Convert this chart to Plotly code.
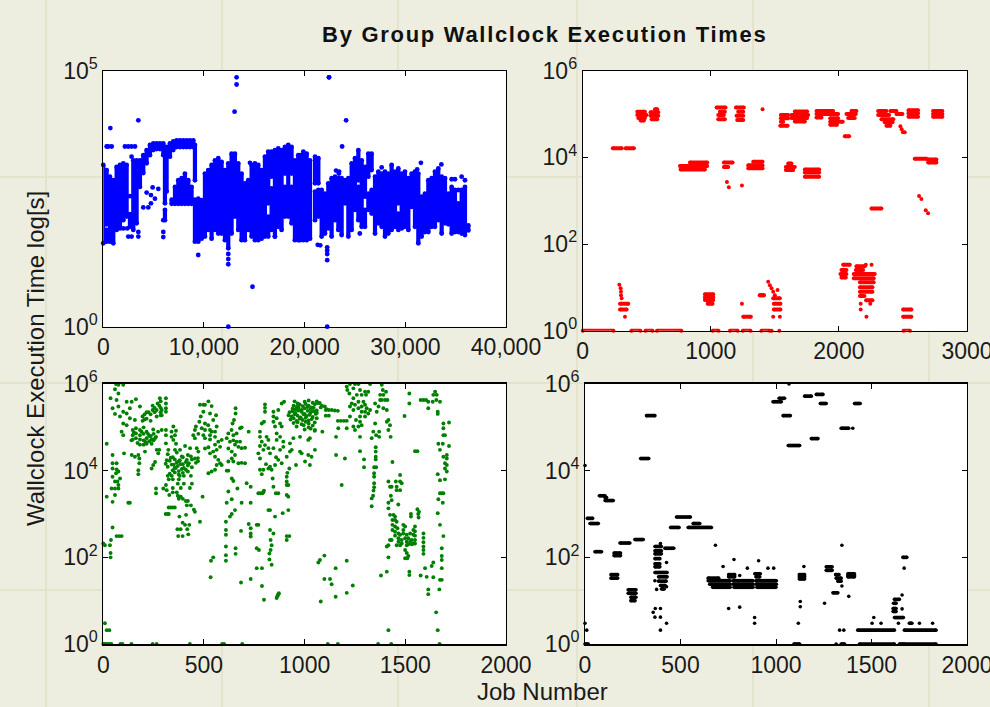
import plotly.graph_objects as go
from plotly.subplots import make_subplots

# ---------- blue group: job number, upper and lower edge of each stretch of the dense cloud (log10 seconds)
blue_x = [0,331,331,662,993,1324,1655,1986,2317,2648,2979,3310,3641,3972,4303,4634,4965,5296,5627,5958,6124,6124,6289,6620,6951,7282,7613,7944,8275,8606,8937,9103,
          7120,7450,7780,8110,8440,8770,6789,9103,9103,9434,9765,10096,10427,10758,11089,11420,11751,12082,12413,12744,13075,13406,13737,14068,14399,14730,15061,15392,15723,16054,16385,16385,16716,16716,17047,17047,17378,17709,17709,18040,18040,18371,18702,18702,19033,19364,
          19540,19871,20202,20533,21030,21030,21360,21360,21690,22020,22350,22680,23015,23345,23675,24010,24340,24670,24670,25000,25335,25335,25665,25995,25995,26325,26325,26655,26655,26990,27320,27650,27980,28310,28640,28975,29305,29305,29635,29965,30300,30630,30960,31290,31620,31950,32285,32615,32945,33275,33610,33940,34270,34600,34930,35260,35595,35925,36255]
blue_hi = [3.16,3.06,1.89,2.93,2.86,3.12,3.16,3.19,3.16,2.20,3.25,3.25,3.25,3.35,3.45,3.55,3.58,3.58,3.58,3.58,3.45,2.28,3.51,3.58,3.62,3.64,3.64,3.64,3.64,3.64,3.64,3.55,
           2.73,2.86,2.90,2.99,2.86,2.73,2.48,2.48,2.41,2.50,2.47,2.99,3.06,3.16,3.25,3.29,3.22,3.06,3.19,3.38,3.38,3.19,2.99,2.80,2.86,3.16,3.19,3.16,3.06,3.32,3.42,2.15,3.42,2.70,3.45,2.99,3.48,3.45,2.28,3.51,2.73,3.55,3.51,2.73,3.25,3.35,
           3.35,3.42,3.38,3.25,3.32,2.64,3.29,2.67,2.67,2.60,2.80,2.90,2.93,2.90,2.90,2.86,2.90,3.19,2.47,3.29,3.45,2.73,3.25,3.12,2.28,3.38,2.60,3.38,2.67,2.93,3.03,2.99,3.03,2.99,3.16,3.03,3.09,2.21,2.99,3.03,2.90,2.99,3.03,2.99,2.54,2.60,2.86,2.90,3.03,3.09,2.93,2.90,2.60,2.73,2.67,2.41,2.67,2.73,1.98]
blue_lo = [1.63,2.00,1.66,1.66,1.63,1.89,1.92,2.08,2.15,1.95,1.89,2.02,2.73,3.00,3.19,3.35,3.45,3.47,3.47,3.35,2.41,2.08,2.64,3.32,3.45,3.51,3.51,3.51,3.51,3.51,3.51,2.86,
           2.40,2.40,2.40,2.40,2.40,2.40,2.40,2.38,1.66,1.66,1.72,1.76,1.89,1.72,1.89,1.82,1.82,1.69,1.53,1.82,2.15,1.89,1.69,1.69,1.89,1.76,1.69,1.69,1.72,1.76,2.41,1.76,2.93,1.89,3.06,1.76,1.95,2.34,1.89,2.99,2.15,2.15,2.99,2.02,1.69,1.69,
           1.69,1.69,1.69,1.72,2.80,2.08,2.80,2.15,1.76,1.82,1.92,1.76,2.08,1.89,1.79,2.41,1.76,2.54,1.89,2.28,2.86,2.08,1.95,2.54,1.95,2.93,2.28,3.06,2.21,1.82,2.02,1.95,1.76,1.82,1.89,1.95,2.41,1.89,1.92,1.95,1.89,2.34,1.95,1.63,1.76,1.85,1.85,1.95,1.95,2.08,1.82,2.02,2.00,1.82,1.85,1.85,1.82,1.79,1.88]
blue_dots_x = [700,3480,13240,13240,13040,22420,22420,23420,24120,23720,23120,23400,9430,21550,22240,22240,22240,22240,14820,12420,22240,330,500,830,2150,2480,2810,3150,2810,31550,31180,33580,27650,14570,5960,5960,5960,2380,1990,2810,2480,3480,3480,4303,4899,5462,4733,5130,4733,4469,3972,17050,25480,
               34600,34930,35595,35925,35260,2648,12413,12413,12413,21300]
blue_dots_y = [3.88,4.03,4.87,4.73,4.20,4.87,4.87,3.03,4.03,3.52,3.05,2.99,1.40,1.59,1.55,1.49,1.42,1.30,0.78,0.0,0.0,3.52,3.52,3.52,3.52,3.52,3.52,3.52,3.32,3.20,3.07,3.17,3.11,3.20,2.08,1.85,1.75,1.92,1.92,1.76,1.76,1.85,1.76,2.62,2.72,2.69,2.57,2.50,2.41,2.33,2.33,1.76,1.82,
               2.88,2.88,2.93,2.86,2.67,2.55,1.42,1.32,1.22,1.60]

# ---------- red group: runs of jobs at a similar time (first job, last job, log10 seconds) and single jobs
red_x0 = [0,380,490,580,1015,1150,1250,1395,2505,235,335,291,291,1253,1383,426,426,434,452,564,530,530,538,1045,1071,1058,1058,1196,1214,1201,1206,1547,1547,1547,1542,1656,1630,1630,1656,1825,1825,1825,1932,1932,1932,2098,2059,2072,2046,2306,2306,2332,2358,2371,2402,2449,2543,2543,2543,2735,2735,2735,2592,2696,2696,837,759,764,1102,1102,1331,1292,1292,1604,1586,1586,1734,1734,1734,2254,954,954,954,975,1383,1487,1492,1492,2033,2020,2012,2020,2137,2132,2116,2116,2164,2164,2164,2164,2212,2501,2501]
red_x1 = [240,450,545,770,1060,1210,1310,1460,2555,305,400,356,343,1313,1414,486,499,486,478,582,590,590,582,1115,1110,1102,1110,1258,1253,1253,1253,1604,1604,1565,1600,1752,1760,1752,1734,1955,1994,1864,1994,2030,1985,2137,2132,2124,2080,2371,2392,2425,2418,2402,2449,2496,2618,2618,2618,2808,2808,2808,2683,2761,2761,972,972,954,1170,1136,1404,1404,1404,1630,1656,1643,1846,1846,1846,2332,1019,1019,1019,1014,1414,1539,1544,1544,2085,2059,2059,2054,2202,2189,2280,2272,2272,2262,2262,2200,2262,2566,2566]
red_log = [0,0,0,0,0,0,0,0,0,4.21,4.21,0.62,0.49,0.32,0.82,5.05,4.98,4.91,4.85,5.11,5.04,4.96,4.88,5.15,5.05,4.98,4.88,5.15,5.05,4.96,4.86,4.98,4.90,4.82,4.73,5.06,4.98,4.91,4.83,5.07,5.00,4.92,4.90,4.82,4.75,5.07,5.00,4.91,4.49,5.07,4.98,4.88,4.81,4.73,5.07,5.00,5.09,5.02,4.94,5.07,5.00,4.94,3.97,3.95,3.88,3.88,3.80,3.72,3.88,3.78,3.90,3.82,3.75,3.86,3.78,3.71,3.72,3.65,3.55,2.82,0.84,0.77,0.71,0.62,0.82,0.75,0.62,0.49,1.52,1.40,1.31,1.23,1.49,1.40,1.31,1.21,1.12,1.00,0.90,0.80,0.70,0.49,0.32]
red_dots_x = [1404,286,296,299,299,304,330,1126,1141,1243,2626,2644,2678,2696,1243,1448,1461,1474,1487,1500,1521,1487,1539,2210,2170,2170,2215,2255,2245,1475,1535,2480,2490,2500,2514]
red_dots_y = [5.11,1.06,0.98,0.90,0.82,0.75,0.32,3.43,3.31,3.35,3.11,3.04,2.78,2.71,0.62,1.13,1.05,0.98,0.90,0.82,0.94,0.32,0.32,1.52,0.62,0.49,0.32,1.52,0.62,0.0,0.0,4.72,4.65,4.58,4.58]

# ---------- green group: single jobs (job number, log10 seconds)
green_x = [0,5,10,20,30,40,85,95,140,245,265,430,590,600,690,1115,1165,1365,1430,1670,8,17,30,8,0,33,38,36,36,66,79,91,46,17,46,58,41,58,75,75,58,83,70,46,63,46,66,75,46,66,46,17,36,63,75,99,58,75,66,75,46,83,58,99,116,141,132,162,182,116,132,99,116,157,91,99,
 146,146,146,162,162,162,182,182,182,182,200,200,200,200,215,215,215,228,228,240,240,250,250,195,195,205,205,215,215,225,235,235,245,245,255,255,265,265,270,285,285,285,285,311,311,311,311,290,281,278,290,290,311,311,311,257,265,278,273,207,174,179,179,174,174,157,141,103,257,248,240,124,132,262,262,298,311,315,328,
 320,345,365,390,420,470,315,335,355,375,395,415,435,455,470,310,330,350,365,380,395,410,425,440,460,320,340,355,370,385,400,420,440,345,360,375,390,410,330,355,375,395,420,320,340,380,400,435,325,345,375,370,400,440,345,385,430,345,365,370,375,395,375,385,493,420,410,435,415,450,325,335,345,355,310,320,325,378,411,455,480,394,406,368,384,417,427,372,394,422,348,361,339,356,339,348,361,323,356,406,381,431,464,472,455,447,455,460,
 480,497,505,522,538,530,497,484,477,505,560,546,563,521,489,505,530,538,555,472,497,530,555,505,530,505,522,555,571,588,580,563,546,530,555,571,588,563,522,538,555,580,657,657,649,642,637,621,613,629,646,662,679,654,671,687,621,638,654,638,621,646,671,687,704,679,687,662,646,722,704,613,621,638,646,621,666,638,613,687,732,654,638,629,609,609,609,609,609,609,657,657,546,535,533,684,732,684,712,732,
 722,732,732,732,762,770,762,773,762,788,788,798,861,864,867,870,872,770,780,790,795,798,820,828,853,891,919,828,845,831,836,831,825,825,836,911,911,924,845,857,869,911,919,911,919,911,911,914,924,841,836,820,778,795,787,808,828,853,869,858,886,911,927,977,985,957,1002,1026,1018,1051,1034,803,803,803,787,798,778,778,787,778,795,770,778,811,820,803,820,828,869,845,886,898,845,861,845,878,853,886,861,878,861,894,845,878,894,927,936,944,977,1018,1026,1051,1088,
 950,965,1000,1020,1040,1060,1075,945,960,975,990,1005,1020,1035,1050,1065,1085,1100,940,955,970,985,1000,1015,1030,1045,1060,1080,1110,925,940,955,970,985,1000,1015,1030,1045,1060,920,935,950,965,980,995,1010,1025,1040,1055,930,945,960,975,990,1005,1020,1035,1060,945,965,985,1005,1020,1050,960,995,1020,1040,1000,1030,1050,1105,1120,1135,1150,1165,1105,1120,1165,1180,1195,1209,1156,1156,1200,1184,1209,1167,1068,1076,1098,1098,1126,1134,1154,1209,1080,1154,1209,1239,
 1209,1212,1225,1222,1250,1242,1267,1275,1259,1283,1325,1316,1300,1305,1242,1267,1292,1234,1250,1225,1283,1300,1308,1325,1267,1242,1283,1300,1316,1275,1300,1225,1255,1275,1283,1267,1242,1250,1275,1275,1295,1295,1350,1358,1350,1341,1333,1370,1355,1370,1353,1353,1353,1353,1345,1355,1345,1345,1345,1345,1342,1340,1333,1333,1383,1388,1375,1391,1404,1375,1383,1399,1411,1367,1391,1408,1416,1408,1424,1416,1427,1379,1408,1416,
 1436,1416,1424,1432,1428,1432,1416,1416,1424,1441,1449,1474,1453,1474,1482,1457,1474,1457,1465,1496,1520,1520,1436,1449,1457,1436,1449,1461,1436,1449,1466,1490,1499,1490,1474,1490,1507,1524,1540,1449,1466,1482,1499,1515,1532,1540,1466,1482,1507,1524,1540,1424,1416,1408,1432,1457,1474,1507,1515,1532,1499,1507,1515,1510,1499,1528,1528,1560,1568,1564,1566,1548,1548,1548,1548,1548,1590,1590,1590,1590,1590,1590,1520,1520,1416,1548,1560,1576,1590,1603,1614,1614,1636,1639,1648,1656,1654,1672,1661,1661,1664,1686,1672,1689,1697,1689,1717,1689,1717,1706,1706,1697,1706,1697,1706,1689,1661,1672,1697,1681,1689,1672,1664,1686,1661,1672,1689,1681,1681,1681,1681,1672,1681,1669,1639,1631,1576,1606,1598,1639,1614,1614,1653,1661,
 140,152,170,190,210,222,236,248,262,272]
green_log = [0,0,0,0,0,0,0,0,0,0,0,0,0,0,0,0,0,0,0,0,0.48,0.32,0.32,2.28,2.32,2.28,2.4,2.1,2.0,2.49,2.49,2.49,2.69,3.4,3.28,3.44,3.59,3.59,3.59,3.67,3.75,3.82,3.75,3.86,3.94,4.05,4.03,3.98,4.17,4.17,4.36,4.62,5.67,6,5.98,5.98,5.88,5.78,5.63,5.48,5.44,5.25,5.31,5.36,5.59,5.59,5.44,5.65,5.48,5.32,5.21,5.09,5.05,5.17,4.9,4.82,
 4.94,4.82,4.72,4.98,4.86,4.75,4.94,4.82,4.72,4.6,5.0,4.85,4.7,4.6,4.9,4.75,4.62,4.8,4.68,4.72,4.62,4.85,4.7,5.25,5.15,5.3,5.18,5.35,5.2,5.35,5.3,5.15,5.4,5.5,5.35,5.45,5.4,5.25,5.55,5.6,5.45,5.35,5.28,5.67,5.55,5.44,5.36,5.4,5.67,5.5,5.28,4.94,4.94,4.82,4.63,4.75,4.48,4.48,4.4,4.44,4.36,4.28,4.17,4.01,3.92,4.32,4.36,4.4,4.2,4.13,4.05,3.26,3.26,3.59,3.48,3.59,3.67,3.55,3.44,
 4.38,4.31,4.42,4.33,4.36,4.29,4.24,4.30,4.26,4.21,4.31,4.25,4.33,4.28,4.22,4.16,4.23,4.14,4.19,4.24,4.15,4.20,4.17,4.26,4.18,4.09,4.14,4.07,4.11,4.15,4.06,4.12,4.08,4.01,4.06,3.99,4.04,4.02,3.93,3.96,3.91,3.95,3.98,3.88,3.88,3.88,3.88,3.88,3.8,3.8,3.8,3.7,3.7,3.7,3.6,3.6,3.6,3.5,3.5,3.42,3.35,3.35,3.4,3.4,3.4,3.3,3.3,3.2,3.2,3.1,3.15,3.15,3.15,3.15,3.0,3.0,3.0,2.94,2.98,3.05,2.82,2.8,2.75,2.65,2.65,2.65,2.75,2.49,2.49,2.53,5.02,4.92,4.9,4.82,4.78,4.71,4.62,4.48,4.48,4.57,4.48,4.52,4.52,4.44,4.94,4.82,4.75,5.02,
 5.52,5.52,5.52,5.6,5.49,5.32,5.36,5.25,5.13,5.09,5.28,5.17,5.02,5.05,4.98,4.94,4.94,4.9,4.9,4.85,4.82,4.82,4.78,4.75,4.72,4.51,4.54,4.6,4.67,4.71,4.55,4.48,4.44,4.4,4.32,4.25,4.13,4.13,3.94,3.98,4.02,4.17,5.44,5.32,5.17,5.09,4.94,4.86,4.75,4.67,4.7,4.67,4.67,4.6,4.55,4.52,4.51,4.44,4.36,4.28,4.21,4.21,4.17,4.18,4.17,4.98,5.0,4.86,4.82,4.9,4.53,4.0,4.0,3.82,3.76,3.52,3.59,3.34,3.26,3.26,3.26,3.09,3.0,2.94,2.82,2.63,2.52,2.25,2.05,1.92,2.21,2.08,2.0,1.92,1.54,1.42,1.5,2.61,3.71,3.63,
 2.77,2.67,2.55,2.48,2.75,2.75,2.21,2.17,1.75,1.75,1.34,1.02,1.06,1.1,1.13,1.15,1.17,3.48,3.48,3.48,3.5,3.54,3.09,3.09,2.94,3.02,3.09,2.63,2.55,2.4,2.28,2.17,2.09,1.95,1.83,2.49,2.4,2.49,3.63,3.48,3.48,3.67,3.67,3.44,3.4,3.86,3.75,3.95,4.05,3.82,4.02,4.05,4.02,4.02,3.92,4.15,4.09,4.13,4.25,4.31,4.17,4.32,4.44,4.44,4.4,4.13,4.21,4.13,4.36,4.48,4.32,5.53,5.45,5.36,5.09,5.13,4.9,4.78,4.67,4.57,4.48,4.4,4.28,4.78,4.71,4.59,4.52,4.4,5.4,5.36,5.55,5.59,5.25,5.21,5.13,5.09,5.02,5.02,4.86,4.78,4.71,4.67,4.52,4.48,4.55,4.63,4.48,4.75,4.78,4.71,4.75,4.94,4.9,
 5.6,5.55,5.59,5.62,5.57,5.6,5.56,5.5,5.47,5.53,5.49,5.54,5.5,5.46,5.53,5.56,5.5,5.48,5.43,5.41,5.46,5.4,5.44,5.47,5.42,5.45,5.39,5.46,5.42,5.35,5.37,5.33,5.39,5.36,5.31,5.38,5.34,5.37,5.33,5.28,5.25,5.3,5.27,5.23,5.3,5.26,5.29,5.24,5.31,5.18,5.21,5.15,5.2,5.17,5.22,5.16,5.19,5.21,5.1,5.12,5.07,5.13,5.09,5.11,5.02,5.05,5.0,5.04,4.95,4.97,4.92,5.4,5.4,5.4,5.39,5.38,5.27,5.27,5.15,5.15,5.15,5.15,4.78,4.36,4.28,3.67,4.98,4.98,1.88,1.94,2.04,1.5,1.5,1.38,1.75,1.92,0.98,1.09,1.18,1.35,
 5.94,5.86,6,5.78,6,5.9,6,5.86,5.75,5.75,6,5.82,5.82,5.75,5.67,5.59,5.59,5.55,5.52,5.48,5.48,5.52,5.44,5.4,5.44,5.4,5.36,5.36,5.32,5.25,5.25,5.25,5.17,5.13,5.05,5.02,5.02,4.94,4.78,4.45,4.26,4.08,5.55,5.36,5.09,4.9,4.75,4.9,4.82,4.78,4.54,4.44,4.32,4.26,4.08,4.08,3.94,3.86,3.71,3.62,3.54,3.42,3.36,3.18,5.98,5.86,5.75,5.75,5.82,5.63,5.63,5.63,5.63,5.48,5.44,5.4,5.17,5.13,5.05,4.94,4.78,1.58,1.67,0.32,
 4.2,3.75,3.63,3.63,3.42,3.32,3.26,3.13,2.98,2.98,2.94,3.9,3.75,3.75,3.71,3.63,3.55,3.55,3.22,5.26,5.78,5.55,2.86,2.86,2.82,2.75,2.71,2.67,2.63,2.59,2.55,2.75,2.71,2.63,2.52,2.55,2.52,2.55,2.63,2.5,2.44,2.4,2.44,2.44,2.4,2.52,2.36,2.32,2.36,2.36,2.32,2.4,2.28,2.25,2.4,2.28,2.28,2.28,2.3,2.3,2.17,2.1,2.03,1.98,1.98,3.0,2.94,3.11,3.05,3.0,2.92,2.71,2.6,2.5,2.4,2.32,2.55,2.45,2.35,2.25,2.17,2.08,1.67,1.59,2.0,4.45,4.45,5.63,5.63,5.63,5.59,5.44,5.59,5.75,5.82,5.75,5.63,5.59,5.36,5.31,4.62,4.62,4.48,4.82,4.82,5.09,5.11,4.98,4.57,4.36,4.28,4.17,4.13,4.05,3.98,4.32,3.92,3.78,3.8,3.48,3.48,3.48,3.34,3.26,3.02,2.75,2.49,2.21,2.03,1.94,1.75,1.48,1.48,1.26,1.88,1.8,1.58,1.55,1.75,1.54,1.26,1.15,0.73,0.32,
 4.7,4.88,4.64,4.9,4.66,4.85,4.8,4.95,4.78,4.9]

# ---------- black group: runs (first job, last job, log10 seconds) and single jobs
black_x0 = [984,1016,1150,1211,1232,1411,322,1037,1341,1185,1064,291,75,105,105,12,26,479,566,448,540,183,261,418,52,152,152,136,136,226,226,240,240,366,366,366,366,366,366,366,385,385,395,400,645,645,775,895,653,775,895,668,780,900,752,752,889,895,1122,1122,1263,1263,1312,1315,1324,1298,1376,1376,1664,1620,1615,1613,1613,1620,1428,1672,1437,1646,1672,1094,1341,1698,0,1122,1376]
black_x1 = [1028,1045,1185,1246,1263,1441,366,1075,1381,1220,1124,334,105,113,148,40,70,552,601,493,662,235,305,465,87,186,186,171,171,267,267,267,262,400,400,400,392,392,392,430,430,425,420,415,700,760,880,1002,760,880,1002,760,880,1000,784,784,918,915,1150,1150,1294,1294,1330,1341,1341,1324,1411,1411,1685,1646,1629,1629,1629,1667,1620,1838,1620,1667,1838,1124,1359,1712,17,1150,1411]
black_log = [5.59,5.67,5.72,5.76,5.55,5.55,5.27,5.27,4.98,4.74,4.58,4.28,3.42,3.38,3.31,2.90,2.78,2.93,2.78,2.69,2.69,2.33,2.41,2.21,2.13,2.10,2.04,1.60,1.52,1.25,1.17,1.08,1.00,2.25,2.15,2.08,1.97,1.85,1.78,1.65,1.55,1.45,1.35,1.27,1.52,1.46,1.46,1.46,1.38,1.38,1.38,1.31,1.31,1.31,1.60,1.55,1.62,1.55,1.60,1.50,1.78,1.70,1.60,1.52,1.45,1.18,1.62,1.55,2.00,1.03,0.94,0.82,0.75,0.61,0.32,0.32,0,0,0,0,0,0.48,0,1.55,1.58]
black_dots_x = [0,1068,1402,395,375,366,427,427,406,357,368,395,366,395,427,395,683,723,780,850,909,958,988,810,752,810,888,888,1146,1127,1127,1117,1315,1333,1355,1345,1345,1381,1254,1671,1660,1660,1641,1512,1503,1550,1751,1820,0,9]
black_dots_y = [4.12,6,4.98,2.32,1.26,1.46,1.88,1.32,1.28,0.73,0.82,0.82,0.62,0.62,0.48,0.32,2.28,1.79,1.95,1.75,1.92,1.75,1.75,1.58,0.82,0.85,0.61,0.48,1.79,0.98,0.86,0.48,0,0.32,0.32,1.34,2.28,1.10,0.94,1.75,1.13,0.81,0.48,0.61,0.48,0.48,0.48,0.48,0.48,0.32]

# ---------- tick labels
blue_xticks = [0,10000,20000,30000,40000]
blue_xlabels = ["0","10,000","20,000","30,000","40,000"]
blue_ylog = [0,5]
red_xticks = [0,1000,2000,3000]
low_xticks = [0,500,1000,1500,2000]
wide_ylog = [0,2,4,6]

BG = "#EEEEE0"
GRID = "#E4E4CE"
W, H = 990, 707
FONT = "Liberation Sans, Arial, sans-serif"
INK = "#1a1a1a"

def runs_xy(x0, x1, lo, hi):
    xs, ys = [], []
    for a, b, c, d in zip(x0, x1, lo, hi):
        xs += [a, b, None]
        ys += [10 ** c, 10 ** d, None]
    return xs, ys

def add_panel(fig, row, col, xs, ys, dots_x, dots_y, color, lw, ms):
    if xs:
        fig.add_trace(go.Scatter(x=xs, y=ys, mode="lines", line=dict(color=color, width=lw),
                                 connectgaps=False, cliponaxis=False, showlegend=False, hoverinfo="skip"), row=row, col=col)
        fig.add_trace(go.Scatter(x=xs, y=ys, mode="markers", marker=dict(color=color, size=ms),
                                 cliponaxis=False, showlegend=False, hoverinfo="skip"), row=row, col=col)
    fig.add_trace(go.Scatter(x=dots_x, y=[10 ** v for v in dots_y], mode="markers",
                             marker=dict(color=color, size=ms), cliponaxis=False, showlegend=False), row=row, col=col)

fig = make_subplots(rows=2, cols=2)

bx, by = runs_xy(blue_x, blue_x, blue_lo, blue_hi)
add_panel(fig, 1, 1, bx, by, blue_dots_x, blue_dots_y, "#0000FF", 4.2, 4.8)
rx, ry = runs_xy(red_x0, red_x1, red_log, red_log)
add_panel(fig, 1, 2, rx, ry, red_dots_x, red_dots_y, "#FF0000", 4, 4)
add_panel(fig, 2, 1, [], [], green_x, green_log, "#008000", 3, 3.9)
kx, ky = runs_xy(black_x0, black_x1, black_log, black_log)
add_panel(fig, 2, 2, kx, ky, black_dots_x, black_dots_y, "#000000", 3.7, 3.6)

boxes = {
    (1, 1): (103.3, 506, 70.7, 326.7),
    (1, 2): (582.7, 967, 70.7, 330.7),
    (2, 1): (103.3, 506, 384, 644),
    (2, 2): (585, 967, 384, 644),
}
axis_style = dict(showgrid=False, zeroline=False, showline=True, linecolor="#000000",
                  mirror="ticks", ticks="inside", ticklen=5, tickcolor="#000000", tickwidth=1, automargin=False,
                  tickfont=dict(family=FONT, size=23, color=INK))
spec = {
    (1, 1): (blue_xticks, blue_xlabels, [0, 40000], blue_ylog),
    (1, 2): (red_xticks, [str(v) for v in red_xticks], [0, 3000], wide_ylog),
    (2, 1): (low_xticks, [str(v) for v in low_xticks], [0, 2000], wide_ylog),
    (2, 2): (low_xticks, [str(v) for v in low_xticks], [0, 2000], wide_ylog),
}
shapes = []
for px in [46, 222, 398, 577, 753, 929]:
    shapes.append(dict(type="line", xref="paper", yref="paper", x0=px / W, x1=px / W, y0=0, y1=1,
                       line=dict(color=GRID, width=2), layer="below"))
for py in [177, 383, 590]:
    shapes.append(dict(type="line", xref="paper", yref="paper", x0=0, x1=1, y0=1 - py / H, y1=1 - py / H,
                       line=dict(color=GRID, width=2), layer="below"))
for (r, c), (l, rr, t, b) in boxes.items():
    xt, xl, xr, yl = spec[(r, c)]
    lw = 1 if r == 1 else 1.5
    fig.update_xaxes(domain=[l / W, rr / W], range=xr, tickmode="array", tickvals=xt, ticktext=xl,
                     ticklabeloverflow="allow", linewidth=lw, **axis_style, row=r, col=c)
    fig.update_yaxes(domain=[1 - b / H, 1 - t / H], type="log", range=[min(yl), max(yl)], tickmode="array",
                     tickvals=[10 ** v for v in yl], ticktext=[f"10<sup>{v}</sup>" for v in yl],
                     ticklabeloverflow="allow", linewidth=1, **axis_style, row=r, col=c)
    shapes.append(dict(type="rect", xref="paper", yref="paper", x0=l / W, x1=rr / W, y0=1 - b / H, y1=1 - t / H,
                       fillcolor="#FFFFFF", line=dict(width=0), layer="below"))

fig.update_layout(
    width=W, height=H, margin=dict(l=0, r=0, t=0, b=0), autosize=False,
    paper_bgcolor=BG, plot_bgcolor="rgba(0,0,0,0)", showlegend=False, shapes=shapes,
    annotations=[
        dict(text="<b>By Group Wallclock Execution Times</b>", x=544.5 / W, y=1 - 34 / H, xref="paper", yref="paper",
             showarrow=False, font=dict(family=FONT, size=22, color="#111111"), xanchor="center", yanchor="middle"),
        dict(text="Job Number", x=542.5 / W, y=1 - 691 / H, xref="paper", yref="paper", showarrow=False,
             font=dict(family=FONT, size=24, color=INK), xanchor="center", yanchor="middle"),
        dict(text="Wallclock Execution Time log[s]", x=35 / W, y=1 - 359 / H, xref="paper", yref="paper",
             showarrow=False, textangle=-90, font=dict(family=FONT, size=24, color=INK),
             xanchor="center", yanchor="middle"),
    ],
)
fig.write_html("out.html", config={"displayModeBar": False},
               post_script="document.body.style.margin='0';document.body.style.background='#EEEEE0';"
                           "document.querySelectorAll('.annotation-text').forEach(function(t){"
                           "if(t.textContent.indexOf('By Group')===0){t.style.letterSpacing='1.7px';}});")
